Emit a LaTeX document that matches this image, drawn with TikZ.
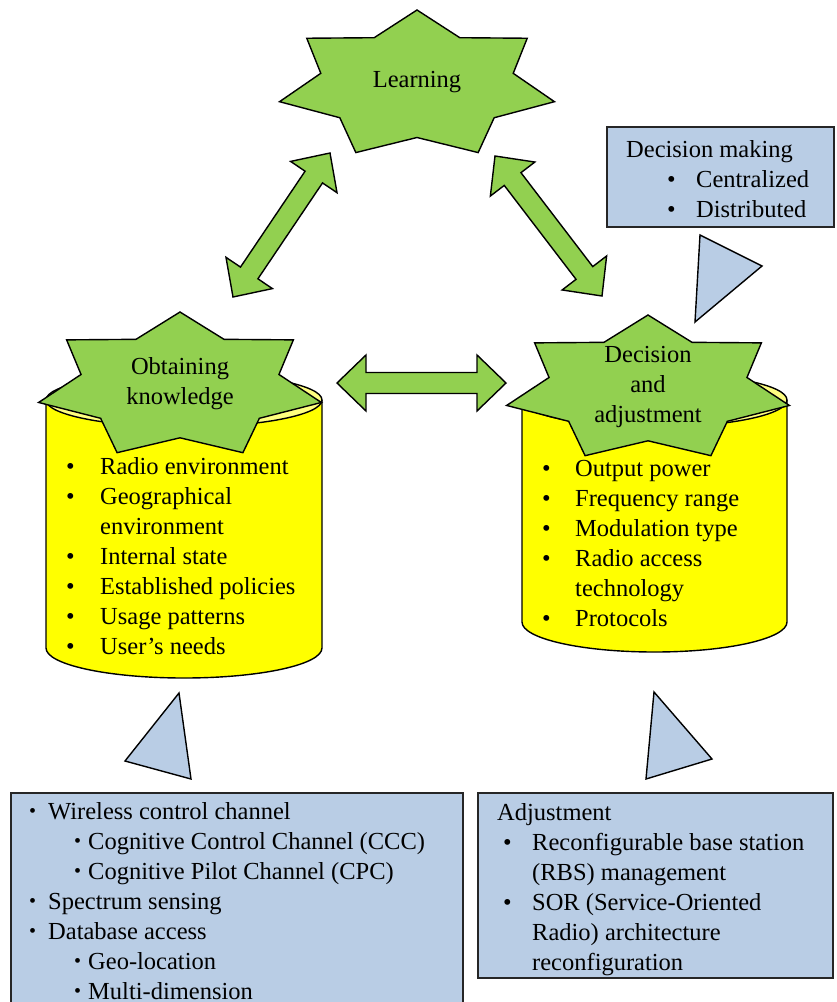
\documentclass[tikz,border=0pt]{standalone}
\usepackage{fontspec}
\setmainfont{Liberation Serif}
\usetikzlibrary{calc}
\definecolor{gfill}{HTML}{92D050}
\definecolor{bfill}{HTML}{B9CDE5}
\definecolor{ytop}{HTML}{FFFF80}
\definecolor{ybody}{HTML}{FFFF00}
\newcommand\greenstar[4]{% cx cy a b
  \draw[gshape] (#1,#2-#4) \foreach \i in {1,...,13}{
    -- ({#1+#3*(1-0.3*mod(\i,2))*cos(90+\i*360/14)},{#2-#4*(1-0.3*mod(\i,2))*sin(90+\i*360/14)}) } -- cycle;}
\newcommand\blockarrow[2]{% from, to
  \draw[gshape] (#1)
    -- ($(#1)!29pt!(#2)!28pt!90:(#2)$)
    -- ($(#1)!29pt!(#2)!10.5pt!90:(#2)$)
    -- ($(#2)!29pt!(#1)!10.5pt!-90:(#1)$)
    -- ($(#2)!29pt!(#1)!28pt!-90:(#1)$)
    -- (#2)
    -- ($(#2)!29pt!(#1)!28pt!90:(#1)$)
    -- ($(#2)!29pt!(#1)!10.5pt!90:(#1)$)
    -- ($(#1)!29pt!(#2)!10.5pt!-90:(#2)$)
    -- ($(#1)!29pt!(#2)!28pt!-90:(#2)$)
    -- cycle;}
\newcommand\bul{\textbullet}
\newcommand\sbul{\raisebox{1.5pt}{\fontsize{20}{20}\selectfont\textbullet}}
\begin{document}
\begin{tikzpicture}[x=1pt,y=-1pt,
  gshape/.style={draw=black, line width=1.4pt, fill=gfill, line join=miter},
  cylline/.style={draw=black, line width=1.4pt},
  bluebox/.style={draw=black!85, line width=1.8pt, fill=bfill},
  tri/.style={draw=black, line width=1.4pt, fill=bfill, line join=miter},
  txt/.style={inner sep=0pt, font=\fontsize{24.5}{30}\selectfont, align=left, anchor=north west},
  ctxt/.style={inner sep=0pt, font=\fontsize{24.5}{30}\selectfont, align=center}
]
\path[use as bounding box, clip] (0,0) rectangle (836,1002);

% cylinders
\fill[ybody] (46,400) -- (46,648) arc[start angle=180,end angle=0,x radius=138,y radius=30] -- (322,400) -- cycle;
\draw[cylline] (46,400) -- (46,648) arc[start angle=180,end angle=0,x radius=138,y radius=30] -- (322,400);
\draw[cylline, fill=ytop] (184,400) ellipse[x radius=138, y radius=27];

\fill[ybody] (522,400) -- (522,622) arc[start angle=180,end angle=0,x radius=132.5,y radius=30] -- (787,400) -- cycle;
\draw[cylline] (522,400) -- (522,622) arc[start angle=180,end angle=0,x radius=132.5,y radius=30] -- (787,400);
\draw[cylline, fill=ytop] (654.5,400) ellipse[x radius=132.5, y radius=27];

% stars
\greenstar{417}{85}{141}{75}
\greenstar{180}{386}{145}{74}
\greenstar{648}{389}{145}{74}
\node[ctxt, anchor=base] (learn) at (417,87) {Learning};
\node[ctxt, anchor=north] (obtain) at (180,353) {\strut Obtaining\\knowledge};
\node[ctxt, anchor=north] (decide) at (648,341) {\strut Decision\\and\\adjustment};

% block arrows
\coordinate (aL1) at (233,297);
\coordinate (aL2) at (330,153);
\coordinate (aR1) at (495,156);
\coordinate (aR2) at (602,296);
\coordinate (aH1) at (337,383);
\coordinate (aH2) at (506,383);
\blockarrow{aL1}{aL2}
\blockarrow{aR1}{aR2}
\blockarrow{aH1}{aH2}

% cylinder texts
\node[txt] (knowlist) at (66,453) {\strut\makebox[34pt][l]{\bul}Radio environment\\
\makebox[34pt][l]{\bul}Geographical\\
\hspace*{34pt}environment\\
\makebox[34pt][l]{\bul}Internal state\\
\makebox[34pt][l]{\bul}Established policies\\
\makebox[34pt][l]{\bul}Usage patterns\\
\makebox[34pt][l]{\bul}User’s needs};

\node[txt] (adjlist) at (542,455) {\strut\makebox[33pt][l]{\bul}Output power\\
\makebox[33pt][l]{\bul}Frequency range\\
\makebox[33pt][l]{\bul}Modulation type\\
\makebox[33pt][l]{\bul}Radio access\\
\hspace*{33pt}technology\\
\makebox[33pt][l]{\bul}Protocols};

% decision making box
\draw[bluebox] (607,127) rectangle (834,227);
\node[txt] (dmtext) at (626,136) {\strut Decision making\\
\hspace*{41pt}\makebox[29pt][l]{\bul}Centralized\\
\hspace*{41pt}\makebox[29pt][l]{\bul}Distributed};
\draw[tri] (700,235) -- (762,266) -- (695,322) -- cycle;

% bottom triangles
\draw[tri] (179,693) -- (125,761) -- (191,779) -- cycle;
\draw[tri] (654,692) -- (712,759) -- (646,779) -- cycle;

% bottom-left box
\draw[bluebox] (11,793) rectangle (463,1030);
\node[txt] (sensetext) at (29,798) {\strut\makebox[19pt][l]{\sbul}Wireless control channel\\
\hspace*{45pt}\makebox[14pt][l]{\sbul}Cognitive Control Channel (CCC)\\
\hspace*{45pt}\makebox[14pt][l]{\sbul}Cognitive Pilot Channel (CPC)\\
\makebox[19pt][l]{\sbul}Spectrum sensing\\
\makebox[19pt][l]{\sbul}Database access\\
\hspace*{45pt}\makebox[14pt][l]{\sbul}Geo-location\\
\hspace*{45pt}\makebox[14pt][l]{\sbul}Multi-dimension};

% bottom-right box
\draw[bluebox] (478,793) rectangle (833,978);
\node[txt] (adjtext) at (497,799) {\strut Adjustment\\
\hspace*{6pt}\makebox[29pt][l]{\bul}Reconfigurable base station\\
\hspace*{35pt}(RBS) management\\
\hspace*{6pt}\makebox[29pt][l]{\bul}SOR (Service-Oriented\\
\hspace*{35pt}Radio) architecture\\
\hspace*{35pt}reconfiguration};
\end{tikzpicture}
\end{document}
